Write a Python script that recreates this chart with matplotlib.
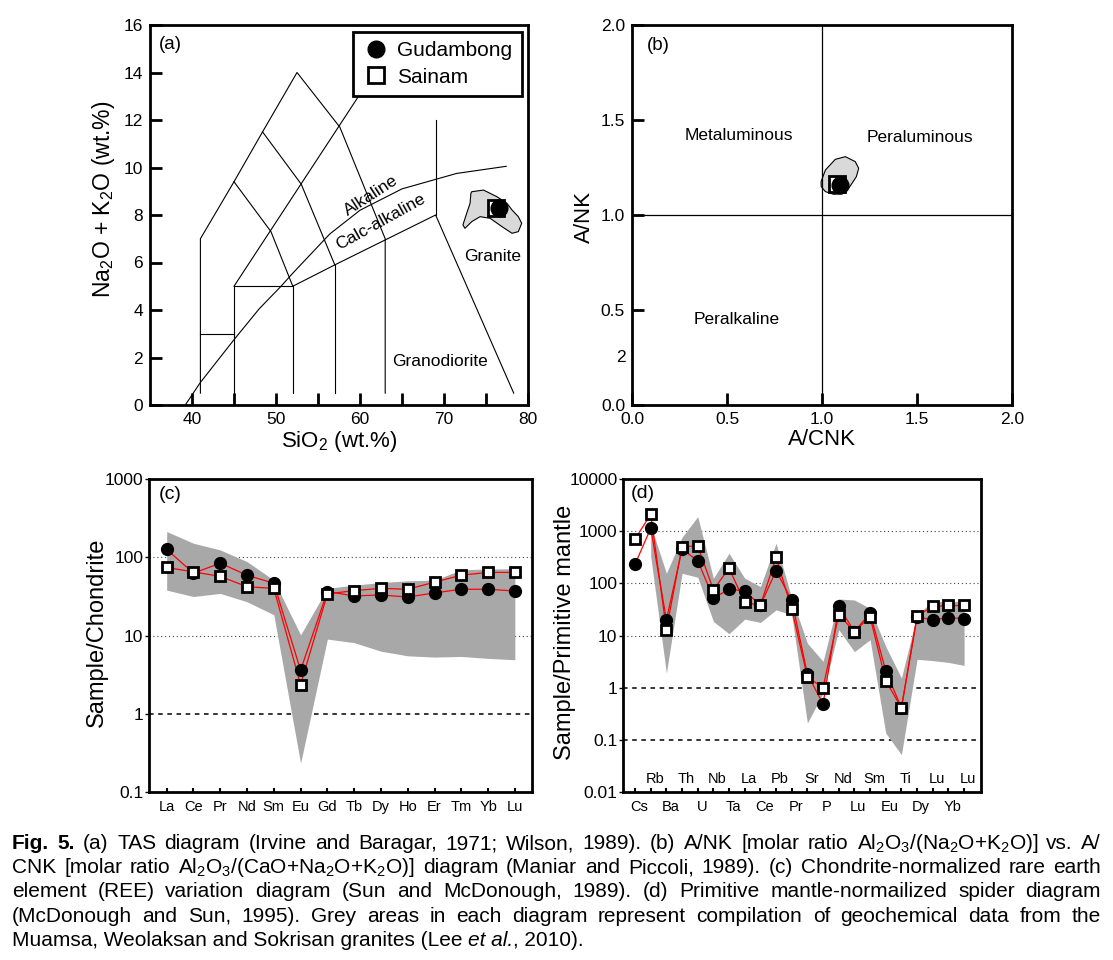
import matplotlib
matplotlib.use("Agg")
import matplotlib.pyplot as plt
from matplotlib.patches import Polygon
from matplotlib.transforms import blended_transform_factory, ScaledTranslation

plt.rcParams['font.family'] = ['Liberation Sans', 'DejaVu Sans']
plt.rcParams['mathtext.fontset'] = 'custom'
plt.rcParams['mathtext.rm'] = 'Liberation Sans'
plt.rcParams['mathtext.it'] = 'Liberation Sans:italic'
plt.rcParams['mathtext.bf'] = 'Liberation Sans:bold'

#----------------------------------------------------------------------------------
# data

# (a) TAS diagram boundaries (SiO2, Na2O+K2O)
tas_outline = [(41, 0.5), (41, 7), (45, 9.4), (48.4, 11.5), (52.5, 14), (57.6, 11.7), (63, 7), (63, 0.5)]
tas_inner_1 = [(45, 9.4), (49.4, 7.3), (52, 5)]
tas_inner_2 = [(48.4, 11.5), (53, 9.3), (57, 5.9)]
tas_step_1 = [(41, 3), (45, 3)]
tas_step_2 = [(45, 0), (45, 5), (52, 5), (52, 0.5)]
tas_v57 = [(57, 5.9), (57, 0.5)]
tas_diag = [(45, 5), (60.2, 13.2)]
tas_calc = [(52, 5), (57, 5.9), (69, 8), (78.3, 0.5)]
tas_v69 = [(69, 8), (69, 12)]
alk_curve = [(39.2, 0), (41, 0.95), (45, 2.75), (48, 4.05), (50.6, 5.0), (52, 5.55), (56.4, 7.2),
             (60, 8.2), (65, 9.1), (69, 9.5), (71.5, 9.75), (77.4, 10.05)]
tas_field = [(73.3, 8.98), (74.7, 9.05), (76.3, 8.77), (77.5, 8.49), (78.1, 8.21), (78.85, 7.93),
             (79.25, 7.65), (78.85, 7.3), (78.1, 7.23), (76.9, 7.51), (75.5, 7.86), (74.3, 7.93),
             (73.3, 7.72), (72.5, 7.44), (72.25, 7.58), (72.7, 8.07), (73.1, 8.49), (73.2, 8.91)]
tas_gud = (76.6, 8.28)
tas_sai = (76.2, 8.28)

# (b) A/CNK vs A/NK
acnk_field = [(0.995, 1.175), (1.018, 1.237), (1.07, 1.293), (1.123, 1.307), (1.175, 1.281),
              (1.193, 1.246), (1.181, 1.202), (1.158, 1.167), (1.135, 1.132), (1.105, 1.111),
              (1.061, 1.109), (1.018, 1.123), (0.996, 1.149)]
acnk_gud = (1.096, 1.16)
acnk_sai = (1.079, 1.161)

# (c) chondrite-normalized REE
ree = ['La', 'Ce', 'Pr', 'Nd', 'Sm', 'Eu', 'Gd', 'Tb', 'Dy', 'Ho', 'Er', 'Tm', 'Yb', 'Lu']
ree_gud = [126, 62.5, 84, 59, 46.5, 3.6, 36.5, 32, 33, 31, 35, 39, 39, 37]
ree_sai = [74, 65, 57, 42, 40, 2.35, 34, 37.5, 40, 39, 48, 59, 64, 64]
ree_env_hi = [213, 151, 124, 88, 51, 10.2, 40, 44, 47.5, 50, 51, 69, 71, 71]
ree_env_lo = [38, 31.5, 34.5, 27, 18.4, 0.234, 9.0, 8.1, 6.3, 5.5, 5.3, 5.4, 5.1, 4.9]

# (d) primitive mantle-normalized spider diagram
spider = ['Cs', 'Rb', 'Ba', 'Th', 'U', 'Nb', 'Ta', 'La', 'Ce', 'Pb', 'Pr', 'Sr', 'P', 'Nd', 'Lu',
          'Sm', 'Eu', 'Ti', 'Dy', 'Lu', 'Yb', 'Lu']
sp_gud = [232, 1140, 20, 450, 273, 52, 77, 72, 37.6, 176, 47, 1.82, 0.485, 36, 11.9, 26.8, 2.11,
          0.41, 22.5, 20, 22, 21]
sp_sai = [710, 2100, 12.9, 507, 521, 75, 195, 43, 38, 316, 32, 1.6, 1.0, 25, 11.9, 23, 1.36,
          0.41, 23.8, 36, 37.6, 37.6]
# envelope from Rb to Lu
sp_env_hi = [1300, 156, 764, 1900, 125, 377, 125, 87, 586, 52, 7.1, 3.2, 50, 48, 33, 6.2, 1.53,
             25, 45, 45, 45]
sp_env_lo = [326, 1.9, 156, 131, 18.6, 10.8, 20.6, 17.8, 31, 25, 0.21, 0.79, 12.9, 4.9, 8.3,
             0.135, 0.052, 3.5, 3.3, 3.05, 2.67]

caption = [
    "Fig. 5. (a) TAS diagram (Irvine and Baragar, 1971; Wilson, 1989). (b) A/NK [molar ratio "
    "Al$_2$O$_3$/(Na$_2$O+K$_2$O)] vs. A/",
    "CNK [molar ratio Al$_2$O$_3$/(CaO+Na$_2$O+K$_2$O)] diagram (Maniar and Piccoli, 1989). "
    "(c) Chondrite-normalized rare earth",
    "element (REE) variation diagram (Sun and McDonough, 1989). (d) Primitive mantle-normailized "
    "spider diagram",
    "(McDonough and Sun, 1995). Grey areas in each diagram represent compilation of geochemical "
    "data from the",
]
caption_last = ["Muamsa, Weolaksan and Sokrisan granites (Lee ", "et al.", ", 2010)."]

#----------------------------------------------------------------------------------

W, H = 1113, 960
fig = plt.figure(figsize=(W / 100, H / 100), dpi=100)

env_color = "#a8a8a8"
field_color = "#d9d9d9"


def px_axes(l, t, r, b):
    return fig.add_axes([l / W, 1 - b / H, (r - l) / W, (b - t) / H])


def style_spines(ax):
    for s in ax.spines.values():
        s.set_linewidth(2.0)


def seg(ax, pts, **kw):
    xs = [p[0] for p in pts]
    ys = [p[1] for p in pts]
    ax.plot(xs, ys, color="black", lw=0.8, **kw)


#----------------------------------------------------------------------------------
# (a) TAS

ax = px_axes(150, 25, 528, 405)
style_spines(ax)
for pts in [tas_outline, tas_inner_1, tas_inner_2, tas_step_1, tas_step_2, tas_v57, tas_diag,
            tas_calc, tas_v69, alk_curve]:
    seg(ax, pts)
ax.add_patch(Polygon(tas_field, closed=True, facecolor=field_color, edgecolor="black", lw=0.8,
                     joinstyle="round"))
ax.plot(*tas_sai, ls="none", marker="s", ms=11, mfc="white", mec="black", mew=2, label="Sainam")
ax.plot(*tas_gud, ls="none", marker="o", ms=12, mfc="black", mec="black", label="Gudambong")
ax.text(61.3, 8.8, "Alkaline", rotation=33, ha="center", va="center", fontsize=12.5)
ax.text(62.5, 7.7, "Calc-alkaline", rotation=29, ha="center", va="center", fontsize=12.5)
ax.text(75.8, 6.27, "Granite", ha="center", va="center", fontsize=12.5)
ax.text(69.5, 1.82, "Granodiorite", ha="center", va="center", fontsize=12.5)
ax.text(37.4, 15.2, "(a)", ha="center", va="center", fontsize=13.5)
ax.set_xlim(35, 80)
ax.set_ylim(0, 16)
ax.set_xticks(range(40, 81, 5))
ax.set_xticklabels([str(v) if v % 10 == 0 else "" for v in range(40, 81, 5)])
ax.set_yticks(range(0, 17, 2))
ax.tick_params(direction="in", length=8.5, width=2, labelsize=12.5, pad=5)
ax.set_xlabel("SiO$_2$ (wt.%)", fontsize=16, va="center")
ax.set_ylabel("Na$_2$O + K$_2$O (wt.%)", fontsize=16.5, va="center")
ax.xaxis.set_label_coords(0.5, -0.097)
ax.yaxis.set_label_coords(-0.124, 0.54)
handles, labels = ax.get_legend_handles_labels()
leg = ax.legend(handles[::-1], labels[::-1], loc="upper right", bbox_to_anchor=(0.984, 0.982),
                borderaxespad=0, fontsize=15, fancybox=False, framealpha=1, edgecolor="black",
                handletextpad=0.4, handlelength=1.3, borderpad=0.45, labelspacing=0.35)
leg.get_frame().set_linewidth(2.0)
leg.set_zorder(10)

#----------------------------------------------------------------------------------
# (b) A/CNK vs A/NK

ax = px_axes(632, 25, 1012, 405)
style_spines(ax)
ax.plot([1, 1], [0, 2], color="black", lw=0.9)
ax.plot([0, 2], [1, 1], color="black", lw=0.9)
ax.add_patch(Polygon(acnk_field, closed=True, facecolor=field_color, edgecolor="black", lw=0.8,
                     joinstyle="round"))
ax.plot(*acnk_sai, ls="none", marker="s", ms=11, mfc="white", mec="black", mew=2)
ax.plot(*acnk_gud, ls="none", marker="o", ms=12, mfc="black", mec="black")
ax.text(0.565, 1.42, "Metaluminous", ha="center", va="center", fontsize=12.5)
ax.text(1.518, 1.41, "Peraluminous", ha="center", va="center", fontsize=12.5)
ax.text(0.553, 0.45, "Peralkaline", ha="center", va="center", fontsize=12.5)
ax.text(0.14, 1.89, "(b)", ha="center", va="center", fontsize=13.5)
ax.set_xlim(0, 2)
ax.set_ylim(0, 2)
ax.set_xticks([0, 0.5, 1.0, 1.5, 2.0])
ax.set_yticks([0, 0.5, 1.0, 1.5, 2.0])
ax.set_xticklabels(["0.0", "0.5", "1.0", "1.5", "2.0"])
ax.set_yticklabels(["0.0", "0.5", "1.0", "1.5", "2.0"])
ax.tick_params(direction="in", length=8.5, width=2, labelsize=12.5, pad=5)
ax.text(-0.016, 0.25, "2", transform=blended_transform_factory(ax.transAxes, ax.transData),
        ha="right", va="center", fontsize=12.5)
ax.set_xlabel("A/CNK", fontsize=16, va="center")
ax.set_ylabel("A/NK", fontsize=16, va="center")
ax.xaxis.set_label_coords(0.5, -0.092)
ax.yaxis.set_label_coords(-0.126, 0.495)

#----------------------------------------------------------------------------------
# (c) REE

ax = px_axes(149, 479, 532, 792)
style_spines(ax)
xr = list(range(len(ree)))
ax.fill_between(xr, ree_env_lo, ree_env_hi, color=env_color, lw=0, zorder=1)
for v in [10, 100]:
    ax.axhline(v, color="#444444", lw=0.8, ls=(0, (1, 2.5)), zorder=0.5)
ax.axhline(1, color="black", lw=1.1, ls=(0, (3, 3)), zorder=0.5)
ax.plot(xr, ree_gud, color="red", lw=0.9, zorder=2)
ax.plot(xr, ree_sai, color="red", lw=0.9, zorder=2)
ax.plot(xr, ree_gud, ls="none", marker="o", ms=8.5, mfc="black", mec="black", zorder=3)
ax.plot(xr, ree_sai, ls="none", marker="s", ms=7.5, mfc="white", mec="black", mew=2, zorder=4)
ax.set_yscale("log")
ax.set_ylim(0.1, 1000)
ax.set_xlim(-0.66, 13.64)
ax.set_yticks([0.1, 1, 10, 100, 1000])
ax.set_yticklabels(["0.1", "1", "10", "100", "1000"])
ax.minorticks_off()
ax.set_xticks(xr)
ax.set_xticklabels(ree)
ax.tick_params(axis="x", direction="in", length=3, width=1.5, labelsize=10.5, pad=6)
ax.tick_params(axis="y", direction="out", length=3, width=1, labelsize=12.5, pad=1)
ax.text(0.055, 0.949, "(c)", transform=ax.transAxes, ha="center", va="center", fontsize=14)
ax.set_ylabel("Sample/Chondrite", fontsize=17, va="center")
ax.yaxis.set_label_coords(-0.137, 0.51)

#----------------------------------------------------------------------------------
# (d) spider

ax = px_axes(623, 479, 981, 792)
style_spines(ax)
xs = list(range(len(spider)))
ax.fill_between(xs[1:], sp_env_lo, sp_env_hi, color=env_color, lw=0, zorder=1)
for v in [10, 100, 1000]:
    ax.axhline(v, color="#444444", lw=0.8, ls=(0, (1, 2.5)), zorder=0.5)
for v in [0.1, 1]:
    ax.axhline(v, color="black", lw=1.1, ls=(0, (3, 3)), zorder=0.5)
ax.plot(xs, sp_gud, color="red", lw=0.9, zorder=2)
ax.plot(xs, sp_sai, color="red", lw=0.9, zorder=2)
ax.plot(xs, sp_gud, ls="none", marker="o", ms=8.5, mfc="black", mec="black", zorder=3)
ax.plot(xs, sp_sai, ls="none", marker="s", ms=7.5, mfc="white", mec="black", mew=2, zorder=4)
ax.set_yscale("log")
ax.set_ylim(0.01, 10000)
ax.set_xlim(-0.77, 22.08)
ax.set_yticks([0.01, 0.1, 1, 10, 100, 1000, 10000])
ax.set_yticklabels(["0.01", "0.1", "1", "10", "100", "1000", "10000"])
ax.minorticks_off()
ax.set_xticks(xs)
ax.set_xticklabels([lab if i % 2 == 0 else "" for i, lab in enumerate(spider)])
ax.tick_params(axis="x", direction="in", length=3, width=1.5, labelsize=10.5, pad=6)
ax.tick_params(axis="y", direction="out", length=3, width=1, labelsize=12.5, pad=1)
shift = ScaledTranslation(4 / 100, 0, fig.dpi_scale_trans)
for lab in ax.get_xticklabels():
    lab.set_transform(lab.get_transform() + shift)
top_tr = blended_transform_factory(ax.transData, ax.transAxes) + shift
for i, lab in enumerate(spider):
    if i % 2 == 1:
        ax.text(i, 0.04, lab, transform=top_tr, ha="center", va="center", fontsize=10.5)
ax.text(0.056, 0.955, "(d)", transform=ax.transAxes, ha="center", va="center", fontsize=14)
ax.set_ylabel("Sample/Primitive mantle", fontsize=17, va="center")
ax.yaxis.set_label_coords(-0.162, 0.51)

#----------------------------------------------------------------------------------
# caption, justified line by line

renderer = fig.canvas.get_renderer()
cap_fs = 15
x_left, x_right = 12, 1101
baselines = [849, 873, 897, 922, 946]


def text_width(s, **kw):
    t = fig.text(0, 0, s, fontsize=cap_fs, **kw)
    w = t.get_window_extent(renderer).width
    t.remove()
    return w


for n, (line, yb) in enumerate(zip(caption, baselines)):
    words = line.split(" ")
    kws = []
    for i, w in enumerate(words):
        if n == 0 and i < 2:
            kws.append({"fontweight": "bold"})
        else:
            kws.append({})
    widths = [text_width(w, **k) for w, k in zip(words, kws)]
    gap = (x_right - x_left - sum(widths)) / (len(words) - 1)
    x = x_left
    for w, k, wd in zip(words, kws, widths):
        fig.text(x / W, 1 - yb / H, w, fontsize=cap_fs, va="baseline", ha="left", **k)
        x += wd + gap

# last line: left aligned, "et al." in italics
x = x_left
for piece, style in zip(caption_last, ["normal", "italic", "normal"]):
    fig.text(x / W, 1 - baselines[-1] / H, piece, fontsize=cap_fs, va="baseline", ha="left",
             fontstyle=style)
    x += text_width(piece.replace(" ", "\u00a0"), fontstyle=style)

fig.savefig("out.png", dpi=100)
